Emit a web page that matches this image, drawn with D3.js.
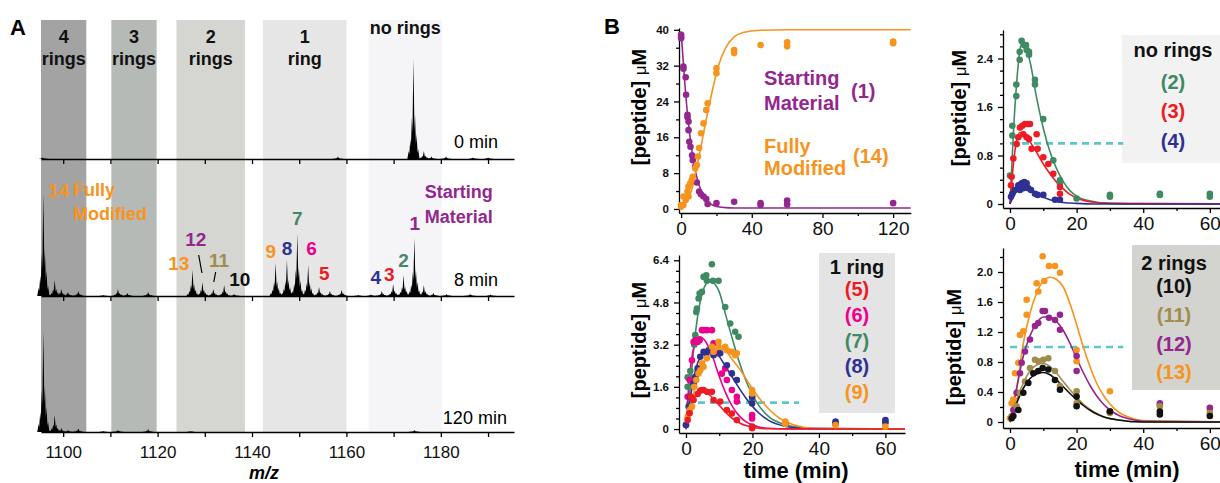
<!DOCTYPE html>
<html lang="en">
<head>
<meta charset="UTF-8">
<title>Ring formation: MS spectra and kinetics</title>
<script src="https://d3js.org/d3.v7.min.js"></script>
<style>
  body { margin: 0; background: #fff; }
  svg { display: block; font-family: "Liberation Sans", Arial, sans-serif; }
  .axis .domain, .axis line { stroke: #000; stroke-width: 1.3; }
  .ms text { font-size: 17px; fill: #111; }
  .kx text { font-size: 19px; fill: #111; }
  .ky text { font-size: 11.5px; font-weight: bold; fill: #111; }
  .bold { font-weight: bold; }
</style>
</head>
<body>
<div id="chart"></div>
<script>
// ---------- panel A data ----------
var mzTicks = [1100, 1110, 1120, 1130, 1140, 1150, 1160, 1170, 1180, 1190];
var mzLabels = [1100, 1120, 1140, 1160, 1180];
var bandTop = ["4", "3", "2", "1", "no rings"];
var bandSub = ["rings", "rings", "rings", "ring", ""];
var bandStart = [1095.3, 1110.2, 1124.0, 1142.3, 1164.7];
var bandEnd = [1104.9, 1119.8, 1138.5, 1160.0, 1180.2];
var bandFill = ["#a3a3a3", "#b6bab6", "#d5d6d2", "#e6e6e6", "#f5f5f8"];

var timeNames = ["0 min", "8 min", "120 min"];
// peak apex: [m/z, intensity]
var peaks0 = [[1095.7, 1.5], [1158.2, 2.5], [1174.2, 100], [1176.4, 8], [1178.0, 2.5], [1181.1, 2.5], [1186.8, 1.5], [1190.0, 1.5]];
var peaks8 = [[1095.8, 103], [1098.2, 16], [1099.6, 7], [1101.0, 4], [1103.2, 5], [1108.5, 1], [1111.6, 7], [1113.6, 3], [1118.0, 4],
  [1127.4, 26], [1129.5, 14], [1131.8, 7], [1134.1, 11], [1136.2, 2], [1145.0, 33], [1147.4, 36], [1149.6, 63], [1151.9, 31],
  [1154.2, 9], [1156.5, 5], [1159.0, 6], [1162.5, 1], [1165.2, 1.5], [1167.5, 5], [1169.9, 12], [1172.1, 21], [1174.4, 58],
  [1176.4, 11], [1178.4, 3], [1181.2, 2], [1186.2, 2], [1190.5, 1.5]];
var peaks120 = [[1095.8, 101], [1098.2, 17], [1099.6, 4], [1101.0, 2], [1103.2, 3.5], [1108.5, 1], [1111.6, 2], [1118.0, 3], [1127.0, 1], [1174.4, 2]];
// isotope envelope drawn for every peak: [offset m/z, fraction]
var isoShape = [[-1.0, 0.08], [-0.66, 0.2], [-0.33, 0.42], [0, 1], [0.33, 0.45], [0.66, 0.25], [1.0, 0.1]];

var pkText = ["14", "13", "12", "11", "10", "9", "8", "7", "6", "5", "4", "3", "2", "1"];
var pkMz = [1099.0, 1124.5, 1128.1, 1133.0, 1137.4, 1144.0, 1147.4, 1149.6, 1152.6, 1155.3, 1166.2, 1169.1, 1172.1, 1174.5];
var pkH = [99, 26, 50, 29, 10, 38, 41, 71, 41, 16, 12, 15, 29, 66];

// ---------- panel B data ----------
var smDots = [[0,38.9],[0,38.4],[0,38.1],[1.3,31.8],[1.3,31.3],[2.6,29.4],[2.8,25.5],[3.6,21],[3.6,20.5],[4.2,19.5],[4.2,17.6],[4.6,15],[5.3,13.9],[6.2,12],[6.6,10.9],[8,9.5],[8.9,5.9],[10.2,3.9],[11.2,3.3],[12.7,2.8],[14.2,2.2],[15,1.1],[20,1.3],[30,1.6],[45,0.9],[45,1.3],[60,1.9],[60,1.0],[120,1.3]];
var smFit = [[0,39.6],[2,28.5],[4,19.6],[6,13.3],[8,8.6],[10,5.5],[12,3.4],[14,2.1],[16,1.3],[20,0.55],[25,0.3],[30,0.22],[45,0.2],[130,0.2]];
var fmDots = [[0,0.5],[0,0.9],[1.3,2.8],[1.3,0.9],[2.6,2.0],[3.6,3.9],[4.2,2.8],[4.2,5.0],[5.1,5.7],[6,6.5],[6.6,7.2],[8,9.1],[8.9,9.8],[9.5,11.7],[10.2,13.6],[11.3,16.9],[12.7,19.1],[14.2,22.1],[15,23.6],[20,30.3],[20,31.4],[30,35.5],[30,34.8],[45,36.6],[60,37.2],[60,36.3],[120,37],[120,37.4]];
var fmFit = [[0,0.5],[3,1.6],[6,4.2],[8,7.8],[10,11.5],[12,15.5],[15,21.5],[18,27],[21,31.8],[25,35.8],[30,38.4],[35,39.4],[45,39.9],[60,40],[130,40]];

var r2Dots = [[0,0.47],[0.7,1.29],[0.7,1.13],[1.9,1.78],[1.9,1.97],[2.9,2.38],[2.9,2.51],[3.5,2.69],[4.3,2.62],[4.8,2.62],[5,2.54],[5.7,2.51],[5.7,2.46],[7.5,2.05],[7.5,1.97],[10,1.4],[13,0.72],[15,0.39],[15,0.34],[20,0.09],[30,0.15],[30,0.12],[45,0.17],[45,0.15],[60,0.17],[60,0.12]];
var r2Fit = [[0,0],[1,1.15],[2,2.0],[3,2.55],[3.6,2.65],[4.5,2.6],[6,2.35],[8,1.75],[10,1.25],[12,0.86],[14,0.58],[16,0.37],[18,0.22],[20,0.13],[25,0.04],[30,0.01],[40,0],[70,0]];
var r3Dots = [[0.3,0.31],[0.5,0.45],[1,0.75],[2,0.99],[2.5,1.1],[3,1.26],[3.7,1.29],[4.5,1.32],[5.3,1.32],[6,1.32],[4,1.15],[5,1.1],[5.7,1.07],[6.5,0.91],[8,1.15],[8.3,0.91],[10,0.77],[11.5,0.66],[13,0.5],[15,0.28],[15,0.17]];
var r3Fit = [[0,0],[1,0.65],[2,1.05],[3,1.18],[4,1.17],[5,1.12],[6,1.03],[8,0.85],[10,0.66],[12,0.5],[14,0.36],[16,0.25],[18,0.16],[20,0.1],[25,0.03],[30,0.01],[70,0]];
var r4Dots = [[0.3,0.12],[0.7,0.17],[1.5,0.23],[2.5,0.31],[3.5,0.34],[4.3,0.36],[5,0.34],[3,0.23],[4,0.26],[5.5,0.26],[6.3,0.23],[7.5,0.17],[8.3,0.15],[10,0.15],[13.5,0.07],[15,0.07]];
var r4Fit = [[0,0],[1,0.12],[2,0.21],[3,0.26],[4,0.27],[5,0.26],[6,0.23],[8,0.16],[10,0.11],[12,0.07],[14,0.04],[16,0.025],[20,0.01],[25,0],[70,0]];

var r5Dots = [[0.5,0.34],[1.1,0.6],[1.5,1.22],[2.3,1.1],[3.5,1.33],[4.3,1.45],[4.8,1.48],[5.3,1.48],[6.3,1.41],[7.8,1.41],[8.3,1.1],[10.3,1.04],[12.3,0.72],[13.8,0.59],[15.3,0.34],[19.9,0.09],[19.9,0.03]];
var r5Fit = [[0,0],[1,0.65],[2,1.05],[3,1.3],[4,1.42],[5,1.45],[6,1.4],[7,1.3],[8,1.18],[10,0.9],[12,0.62],[14,0.4],[16,0.24],[18,0.13],[20,0.07],[25,0.01],[70,0]];
var r6Dots = [[0.5,1.22],[1.1,1.86],[1.8,2.61],[2.3,3.3],[2.8,3.37],[3.5,3.3],[4.1,3.37],[4.8,3.75],[5.3,3.75],[6.3,3.75],[7.8,3.75],[8.3,3.25],[9.8,2.87],[10.8,2.1],[11.8,2.3],[12.3,1.86],[13.8,1.48],[15.3,1.22],[15.3,1.04],[19.9,0.53],[19.9,0.4]];
var r6Fit = [[0,0],[1,1.9],[2,2.9],[3,3.35],[4,3.5],[5,3.45],[6,3.3],[7,3.05],[8,2.75],[10,2.0],[12,1.35],[14,0.85],[16,0.5],[18,0.28],[20,0.15],[22,0.08],[25,0.03],[30,0],[70,0]];
var r7Dots = [[0,0.15],[0.5,1.6],[0.5,1.96],[1.3,2.2],[2.5,3.2],[2.8,3.56],[3.1,4.44],[3.3,4.57],[3.8,4.95],[4.1,5.14],[4.8,5.2],[5.3,5.77],[6.1,5.83],[6.3,5.62],[7.8,6.25],[8.1,5.62],[9.8,5.62],[11.8,4.63],[13.3,4.0],[14.8,3.69],[15.8,3.5],[19.9,1.22],[19.9,1.1],[29.9,0.21],[45,0.19],[60,0.28]];
var r7Fit = [[0,0],[1,1.2],[2,2.6],[3,3.8],[4,4.65],[5,5.2],[6,5.5],[7,5.62],[8,5.58],[9,5.45],[10,5.2],[12,4.3],[14,3.4],[16,2.55],[18,1.85],[20,1.3],[22,0.88],[25,0.46],[30,0.16],[35,0.05],[40,0.01],[70,0]];
var r8Dots = [[0,0.15],[0.8,0.85],[1.3,1.22],[2.3,1.73],[2.8,1.98],[3.5,2.3],[4.3,2.74],[5.3,2.93],[6.1,2.87],[6.8,2.99],[7.8,3.06],[8.3,2.8],[10.3,2.87],[12.3,2.42],[13.8,2.11],[15.3,1.86],[19.9,1.22],[19.9,0.97],[29.9,0.21],[45,0.21],[45,0.28],[60,0.24],[60,0.34]];
var r8Fit = [[0,0],[1,0.9],[2,1.7],[3,2.3],[4,2.65],[5,2.85],[6,2.95],[7,2.98],[8,2.95],[9,2.88],[10,2.75],[12,2.35],[14,1.95],[16,1.55],[18,1.18],[20,0.86],[22,0.6],[25,0.32],[30,0.1],[35,0.03],[70,0]];
var r9Dots = [[0.5,0.47],[1.1,0.72],[1.8,0.85],[2.5,1.6],[3.1,1.86],[3.8,2.11],[4.3,2.23],[4.8,2.49],[5.3,2.36],[6.3,2.68],[7.8,3.12],[8.3,2.93],[9.8,3.31],[9.8,3.12],[11.8,3.12],[12.3,2.99],[13.8,2.93],[14.8,2.8],[15.3,2.87],[19.9,1.48],[19.9,1.35],[29.9,0.28],[29.9,0.19],[45,0.15],[60,0.09]];
var r9Fit = [[0,0],[1,0.6],[2,1.2],[3,1.7],[4,2.1],[5,2.4],[6,2.65],[8,2.95],[10,3.05],[12,2.95],[14,2.62],[16,2.3],[18,1.92],[20,1.53],[22,1.18],[25,0.75],[28,0.42],[30,0.28],[35,0.08],[40,0.02],[70,0]];

var r10Dots = [[0.5,0.05],[1,0.08],[2.5,0.16],[4,0.39],[5.5,0.52],[7,0.65],[8.5,0.68],[9.8,0.72],[11.5,0.7],[13.5,0.56],[15,0.43],[20,0.34],[20,0.21],[30,0.14],[45,0.14],[45,0.1],[60,0.08]];
var r10Fit = [[0,0],[2,0.25],[4,0.45],[6,0.58],[8,0.64],[10,0.66],[12,0.63],[14,0.56],[16,0.47],[18,0.38],[20,0.3],[22,0.22],[25,0.13],[28,0.07],[32,0.03],[40,0],[70,0]];
var r11Dots = [[0.5,0.08],[2,0.21],[3,0.39],[4.5,0.54],[6,0.72],[7.5,0.83],[8.5,0.81],[10,0.83],[11.5,0.85],[13.5,0.68],[15,0.48],[20,0.41],[20,0.25],[30,0.12],[45,0.21],[60,0.12]];
var r11Fit = [[0,0],[2,0.3],[4,0.52],[6,0.68],[8,0.76],[10,0.78],[12,0.74],[14,0.65],[16,0.54],[18,0.43],[20,0.33],[22,0.24],[25,0.14],[28,0.07],[32,0.03],[40,0],[70,0]];
var r12Dots = [[1,0.16],[2,0.39],[3,0.65],[3.5,0.79],[4.5,0.94],[6,1.1],[7.5,1.28],[8.5,1.32],[9.8,1.48],[10.5,1.48],[11.7,1.39],[13.5,1.36],[15,1.43],[15,1.23],[20,0.88],[20,0.68],[30,0.14],[45,0.25],[60,0.19]];
var r12Fit = [[0,0],[2,0.45],[4,0.88],[6,1.15],[8,1.32],[10,1.4],[12,1.4],[14,1.34],[16,1.22],[18,1.05],[20,0.85],[22,0.66],[24,0.49],[26,0.35],[28,0.24],[30,0.16],[33,0.08],[36,0.04],[40,0.01],[70,0]];
var r13Dots = [[0,0.05],[0.5,0.25],[1,0.3],[1.5,0.65],[2.5,0.79],[3,1.16],[4,1.21],[5,1.43],[5,1.63],[8,1.85],[8.5,1.74],[9.8,2.21],[10.3,1.88],[11.7,2.08],[13.5,2.08],[15,1.99],[20,0.96],[20,0.81],[30,0.41],[30,0.14],[45,0.23],[60,0.16]];
var r13Fit = [[0,0],[2,0.45],[4,1.05],[6,1.45],[8,1.72],[10,1.88],[12,1.93],[14,1.9],[16,1.8],[18,1.58],[20,1.3],[22,1.0],[24,0.74],[26,0.52],[28,0.36],[30,0.24],[33,0.12],[36,0.06],[40,0.02],[70,0]];

var cPurple = "#93278f", cOrange = "#f7941d", cGreen = "#3f8a62", cRed = "#ed1c24",
    cBlue = "#2e3192", cMagenta = "#ec008c", cOlive = "#a08d4e", cBlack = "#111", cCyan = "#5cc6cc";
var pkColor = [cOrange, cOrange, cPurple, cOlive, cBlack, cOrange, cBlue, cGreen, cMagenta, cRed, cBlue, cRed, cGreen, cPurple];

var width = 1220, height = 483;
var svg = d3.select("#chart").append("svg")
    .attr("width", width)
    .attr("height", height);

// ---------------- A: spectra ----------------
var mz = d3.scaleLinear().domain([1095.3, 1195.5]).range([41, 514]);
var rowBase = [159, 296, 432];
var rowPeaks = [peaks0, peaks8, peaks120];
var halfW = 0.3;

svg.selectAll(".band")
  .data(bandStart)
  .enter().append("rect")
    .attr("x", function(d) { return mz(d); })
    .attr("y", 20)
    .attr("width", function(d, i) { return mz(bandEnd[i]) - mz(d); })
    .attr("height", rowBase[2] - 20)
    .attr("fill", function(d, i) { return bandFill[i]; });

bandStart.forEach(function(d, i) {
  var cx = (mz(d) + mz(bandEnd[i])) / 2;
  var t = svg.append("text").attr("class", "bold").attr("text-anchor", "middle")
      .style("font-size", "18px").attr("fill", "#111");
  if (bandSub[i]) {
    t.append("tspan").attr("x", cx).attr("y", 43).text(bandTop[i]);
    t.append("tspan").attr("x", cx).attr("y", 65).text(bandSub[i]);
  } else {
    t.attr("x", cx).attr("y", 34).text(bandTop[i]);
  }
});

rowBase.forEach(function(yb, r) {
  var inten = d3.scaleLinear().domain([0, 100]).range([yb, yb - 100]);
  var d = "";
  rowPeaks[r].forEach(function(p) {
    isoShape.forEach(function(s) {
      var c = p[0] + s[0], h = p[1] * s[1];
      d += "M" + mz(c - halfW) + "," + yb + "L" + mz(c) + "," + inten(h) + "L" + mz(c + halfW) + "," + yb + "Z";
    });
  });
  svg.append("path").attr("d", d).attr("fill", "#000");

  var ax = d3.axisBottom(mz).tickValues(mzTicks).tickSize(5).tickSizeOuter(0).tickPadding(9)
      .tickFormat(function(v) { return (r === 2 && mzLabels.indexOf(v) >= 0) ? v : ""; });
  svg.append("g").attr("class", "axis ms")
      .attr("transform", "translate(0," + yb + ")")
      .call(ax);

  var endMz = r === 2 ? 1194 : 1192.1;
  svg.append("text")
      .attr("x", mz(endMz)).attr("y", inten([11, 10, 8][r]))
      .attr("text-anchor", "end")
      .style("font-size", "18px")
      .text(timeNames[r]);
});

svg.append("text").attr("x", 264).attr("y", 479).attr("text-anchor", "middle")
    .style("font-size", "18px").style("font-weight", "bold").style("font-style", "italic")
    .text("m/z");

// annotations on the 8 min trace
var i8 = d3.scaleLinear().domain([0, 100]).range([rowBase[1], rowBase[1] - 100]);
svg.selectAll(".pklab")
  .data(pkText)
  .enter().append("text")
    .attr("x", function(d, i) { return mz(pkMz[i]); })
    .attr("y", function(d, i) { return i8(pkH[i]); })
    .attr("text-anchor", "middle")
    .attr("fill", function(d, i) { return pkColor[i]; })
    .style("font-size", "19px").style("font-weight", "bold")
    .text(function(d) { return d; });

svg.append("line").attr("x1", mz(1128.7)).attr("y1", i8(41)).attr("x2", mz(1129.4)).attr("y2", i8(23))
    .attr("stroke", "#000").attr("stroke-width", 1.2);
svg.append("line").attr("x1", mz(1132.3)).attr("y1", i8(24)).attr("x2", mz(1131.9)).attr("y2", i8(14))
    .attr("stroke", "#000").attr("stroke-width", 1.2);

function twoLines(x, y1, y2, a, b, color) {
  var t = svg.append("text").attr("fill", color).style("font-size", "18px").style("font-weight", "bold");
  t.append("tspan").attr("x", x).attr("y", y1).text(a);
  t.append("tspan").attr("x", x).attr("y", y2).text(b);
}
twoLines(mz(1102.1), i8(100), i8(76), "Fully", "Modified", cOrange);
twoLines(mz(1176.6), i8(98), i8(73), "Starting", "Material", cPurple);

svg.append("text").attr("x", 10).attr("y", 35).style("font-size", "22px").style("font-weight", "bold").text("A");
svg.append("text").attr("x", 604).attr("y", 34).style("font-size", "22px").style("font-weight", "bold").text("B");

// ---------------- B: kinetics ----------------
var yFmt1 = function(d) { return d === 0 ? "0" : d3.format(".1f")(d); };

function kinetics(o) {
  var x = d3.scaleLinear().domain(o.xDom).range(o.xRange);
  var y = d3.scaleLinear().domain(o.yDom).range(o.yRange);
  var x0 = o.xRange[0], y0 = o.yRange[0];
  var g = svg.append("g");

  if (o.box) {
    g.append("rect").attr("x", o.box[0]).attr("y", o.box[1])
        .attr("width", o.box[2] - o.box[0]).attr("height", o.box[3] - o.box[1])
        .attr("fill", o.boxFill);
  }

  g.append("g").attr("class", "axis kx").attr("transform", "translate(0," + y0 + ")")
      .call(d3.axisBottom(x).tickValues(o.xMajor).tickSize(5).tickSizeOuter(0).tickPadding(4));
  g.append("g").attr("class", "axis").attr("transform", "translate(0," + y0 + ")")
      .call(d3.axisBottom(x).tickValues(o.xMinor).tickSize(3).tickFormat(""))
      .select(".domain").remove();
  g.append("g").attr("class", "axis ky").attr("transform", "translate(" + x0 + ",0)")
      .call(d3.axisLeft(y).tickValues(o.yMajor).tickSize(5).tickSizeOuter(0).tickPadding(5).tickFormat(o.yFmt));
  g.append("g").attr("class", "axis").attr("transform", "translate(" + x0 + ",0)")
      .call(d3.axisLeft(y).tickValues(o.yMinor).tickSize(3).tickFormat(""))
      .select(".domain").remove();

  var lab = g.append("text")
      .attr("transform", "translate(" + o.yLab[0] + "," + o.yLab[1] + ") rotate(-90)")
      .attr("text-anchor", "middle").style("font-size", "20px");
  lab.append("tspan").style("font-weight", "bold").text("[peptide] ");
  lab.append("tspan").style("font-size", "17px").text("\u03bc");
  lab.append("tspan").style("font-weight", "bold").text("M");

  if (o.xLab) {
    g.append("text").attr("x", o.xLab[0]).attr("y", o.xLab[1]).attr("text-anchor", "middle")
        .style("font-size", "22px").style("font-weight", "bold").text("time (min)");
  }

  var clipId = "clip" + Math.round(x0) + "_" + Math.round(y0);
  g.append("clipPath").attr("id", clipId).append("rect")
      .attr("x", x0).attr("y", o.yRange[1] - 4)
      .attr("width", o.xRange[1] - x0).attr("height", y0 - o.yRange[1] + 4);

  if (o.dash) {
    g.append("line")
        .attr("x1", x(0)).attr("x2", x(o.dash))
        .attr("y1", y(1)).attr("y2", y(1))
        .attr("stroke", cCyan).attr("stroke-width", 2.6).attr("stroke-dasharray", "7,5");
  }

  var line = d3.line()
      .x(function(d) { return x(d[0]); })
      .y(function(d) { return y(d[1]); })
      .curve(d3.curveMonotoneX);

  o.series.forEach(function(s) {
    g.append("path").datum(s.fit)
        .attr("clip-path", "url(#" + clipId + ")")
        .attr("d", line).attr("fill", "none")
        .attr("stroke", s.color).attr("stroke-width", 1.6);
  });
  o.series.forEach(function(s) {
    g.selectAll(null).data(s.dots).enter().append("circle")
        .attr("cx", function(d) { return x(d[0]); })
        .attr("cy", function(d) { return y(d[1]); })
        .attr("r", 3.3)
        .attr("fill", s.color);
  });

  if (o.legend) {
    o.legend.forEach(function(l) {
      g.append("text").attr("x", l.x).attr("y", l.y)
          .attr("text-anchor", l.anchor || "middle")
          .attr("fill", l.color)
          .style("font-size", (l.size || 20) + "px").style("font-weight", "bold")
          .text(l.text);
    });
  }
}

function range(a, b, s) { return d3.range(a, b + s / 2, s).map(function(v) { return +v.toFixed(2); }); }

kinetics({
  xDom: [-1.2, 130], xRange: [679, 910.8],
  yDom: [-0.9, 40.4], yRange: [213, 28],
  xMajor: [0, 40, 80, 120], xMinor: [20, 60, 100],
  yMajor: [0, 8, 16, 24, 32, 40], yMinor: [4, 12, 20, 28, 36],
  yFmt: d3.format("d"),
  yLab: [646, 107],
  series: [
    { color: cPurple, dots: smDots, fit: smFit },
    { color: cOrange, dots: fmDots, fit: fmFit }
  ],
  legend: [
    { text: "Starting", x: 764, y: 85, anchor: "start", color: cPurple, size: 20 },
    { text: "Material", x: 764, y: 110, anchor: "start", color: cPurple, size: 20 },
    { text: "(1)", x: 851, y: 98, anchor: "start", color: cPurple, size: 20 },
    { text: "Fully", x: 764, y: 153, anchor: "start", color: cOrange, size: 20 },
    { text: "Modified", x: 764, y: 175, anchor: "start", color: cOrange, size: 20 },
    { text: "(14)", x: 853, y: 163, anchor: "start", color: cOrange, size: 20 }
  ]
});

kinetics({
  xDom: [-2.1, 63.5], xRange: [1003, 1221.5],
  yDom: [-0.066, 2.87], yRange: [208, 30],
  xMajor: [0, 20, 40, 60], xMinor: [10, 30, 50],
  yMajor: [0, 0.8, 1.6, 2.4], yMinor: range(0.2, 2.8, 0.2).filter(function(v) { return Math.abs(v / 0.8 - Math.round(v / 0.8)) > 0.01; }),
  yFmt: yFmt1,
  yLab: [966, 108],
  dash: 34,
  box: [1122, 35, 1225, 163], boxFill: "#f2f2f2",
  series: [
    { color: cGreen, dots: r2Dots, fit: r2Fit },
    { color: cRed, dots: r3Dots, fit: r3Fit },
    { color: cBlue, dots: r4Dots, fit: r4Fit }
  ],
  legend: [
    { text: "no rings", x: 1173, y: 57, color: cBlack },
    { text: "(2)", x: 1173, y: 89, color: cGreen },
    { text: "(3)", x: 1173, y: 118, color: cRed },
    { text: "(4)", x: 1173, y: 148, color: cBlue }
  ]
});

kinetics({
  xDom: [-2.1, 65.9], xRange: [679, 905],
  yDom: [-0.15, 6.6], yRange: [433, 255],
  xMajor: [0, 20, 40, 60], xMinor: [10, 30, 50],
  yMajor: [0, 1.6, 3.2, 4.8, 6.4], yMinor: [0.4, 0.8, 1.2, 2.0, 2.4, 2.8, 3.6, 4.0, 4.4, 5.2, 5.6, 6.0],
  yFmt: yFmt1,
  yLab: [646, 340],
  xLab: [796, 478],
  dash: 34,
  box: [819, 253, 895, 413], boxFill: "#e4e4e4",
  series: [
    { color: cGreen, dots: r7Dots, fit: r7Fit },
    { color: cMagenta, dots: r6Dots, fit: r6Fit },
    { color: cBlue, dots: r8Dots, fit: r8Fit },
    { color: cOrange, dots: r9Dots, fit: r9Fit },
    { color: cRed, dots: r5Dots, fit: r5Fit }
  ],
  legend: [
    { text: "1 ring", x: 857, y: 274, color: cBlack },
    { text: "(5)", x: 857, y: 296, color: cRed },
    { text: "(6)", x: 857, y: 322, color: cMagenta },
    { text: "(7)", x: 857, y: 348, color: cGreen },
    { text: "(8)", x: 857, y: 373, color: cBlue },
    { text: "(9)", x: 857, y: 399, color: cOrange }
  ]
});

kinetics({
  xDom: [-2.1, 63.5], xRange: [1003, 1221.5],
  yDom: [-0.08, 2.32], yRange: [428, 248],
  xMajor: [0, 20, 40, 60], xMinor: [10, 30, 50],
  yMajor: [0, 0.4, 0.8, 1.2, 1.6, 2.0], yMinor: [0.2, 0.6, 1.0, 1.4, 1.8, 2.2],
  yFmt: yFmt1,
  yLab: [961, 347],
  xLab: [1127, 477],
  dash: 34,
  box: [1132, 245, 1225, 390], boxFill: "#d3d3cf",
  series: [
    { color: cOrange, dots: r13Dots, fit: r13Fit },
    { color: cPurple, dots: r12Dots, fit: r12Fit },
    { color: cOlive, dots: r11Dots, fit: r11Fit },
    { color: cBlack, dots: r10Dots, fit: r10Fit }
  ],
  legend: [
    { text: "2 rings", x: 1174, y: 270, color: cBlack },
    { text: "(10)", x: 1174, y: 293, color: cBlack },
    { text: "(11)", x: 1174, y: 322, color: cOlive },
    { text: "(12)", x: 1174, y: 351, color: cPurple },
    { text: "(13)", x: 1174, y: 379, color: cOrange }
  ]
});
</script>
</body>
</html>
